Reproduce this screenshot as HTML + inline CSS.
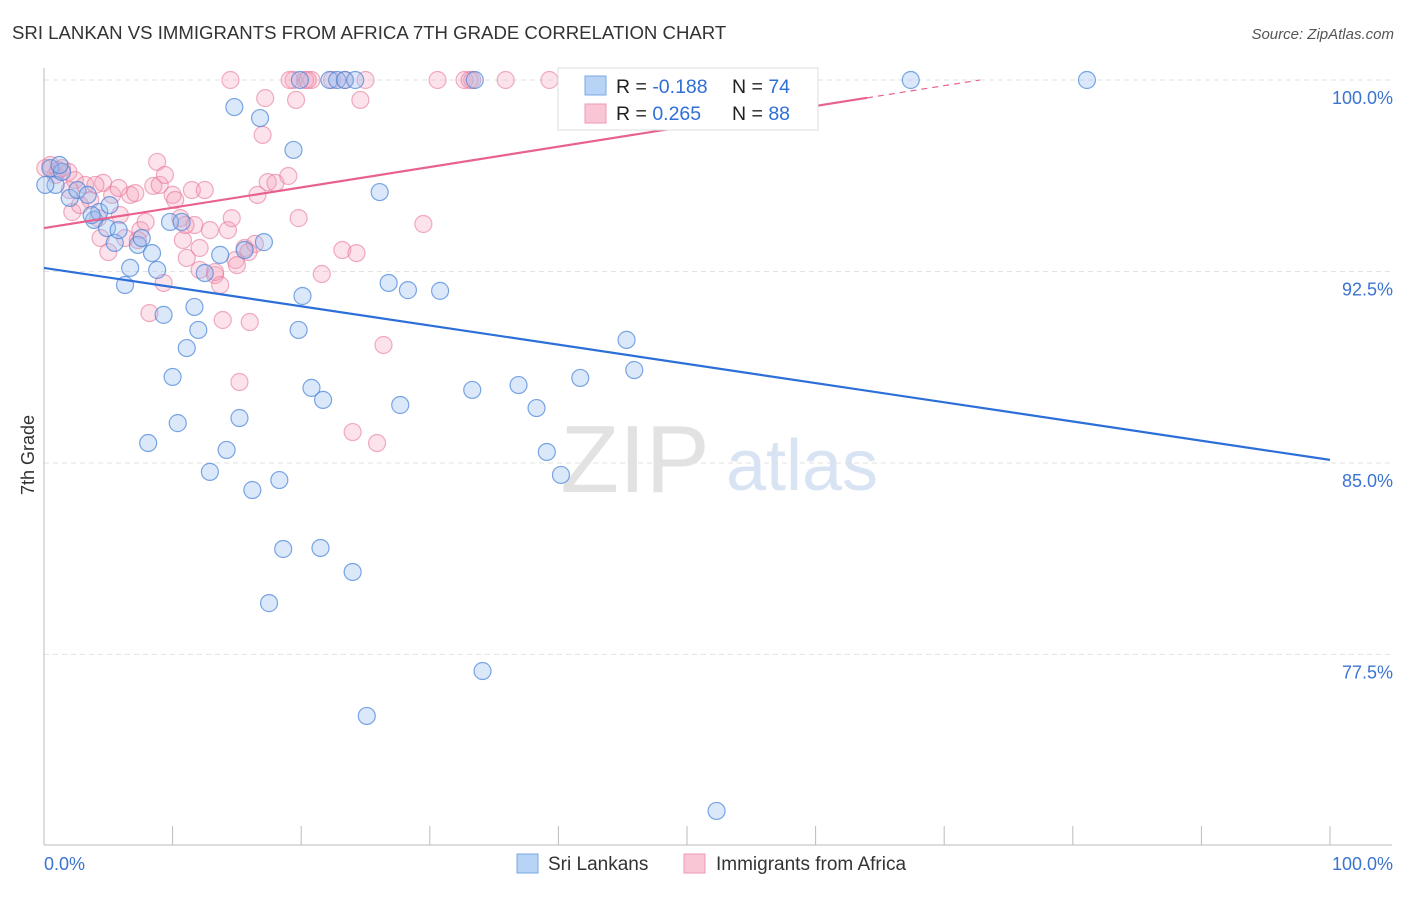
<!DOCTYPE html>
<html><head><meta charset="utf-8"><style>
body{margin:0;background:#fff;font-family:"Liberation Sans",sans-serif;}
svg text{font-family:"Liberation Sans",sans-serif;}
</style></head><body>
<svg id="chart" width="1406" height="892">
<text x="12" y="39" font-size="18.6" fill="#333">SRI LANKAN VS IMMIGRANTS FROM AFRICA 7TH GRADE CORRELATION CHART</text>
<text x="1394" y="39" font-size="15" fill="#555" text-anchor="end" font-style="italic">Source: ZipAtlas.com</text>
<text x="34" y="455" font-size="18" fill="#333" text-anchor="middle" transform="rotate(-90 34 455)">7th Grade</text>
<g>
<text x="635" y="492" font-size="96" fill="#e2e2e2" text-anchor="middle" font-family="Liberation Serif">ZIP</text>
<text x="802" y="490" font-size="72" fill="#d8e3f3" text-anchor="middle">atlas</text>
</g>
<g id="grid"></g><g id="axes"></g><g id="pts"></g><g id="lines"></g>
<g>
<rect x="558" y="68" width="260" height="62" fill="#fff" stroke="#ddd"/>
<rect x="585" y="76" width="21" height="19" fill="#b7d3f5" stroke="#7aa8e6"/>
<rect x="585" y="104" width="21" height="19" fill="#f9c6d5" stroke="#ee9ab3"/>
<text x="616" y="93" font-size="19.5" fill="#222">R = <tspan fill="#2f6fd6">-0.188</tspan></text>
<text x="732" y="93" font-size="19.5" fill="#222">N = <tspan fill="#2f6fd6">74</tspan></text>
<text x="616" y="120" font-size="19.5" fill="#222">R = <tspan fill="#2f6fd6"> 0.265</tspan></text>
<text x="732" y="120" font-size="19.5" fill="#222">N = <tspan fill="#2f6fd6">88</tspan></text>
</g>
<g>
<rect x="517" y="854" width="21" height="19" fill="#b7d3f5" stroke="#7aa8e6"/>
<text x="548" y="870" font-size="19" fill="#333">Sri Lankans</text>
<rect x="684" y="854" width="21" height="19" fill="#f9c6d5" stroke="#ee9ab3"/>
<text x="716" y="870" font-size="19" fill="#333">Immigrants from Africa</text>
</g>
</svg>
<script>
const yTicks=[100,92.5,85,77.5];
const yTickLabels=["100.0%","92.5%","85.0%","77.5%"];
const xLabels=["0.0%","100.0%"];
const blueX=[0.5,0.9,1.4,2.0,2.6,3.4,3.9,4.3,4.9,5.1,5.5,6.7,6.3,7.3,7.6,8.4,8.8,9.3,9.8,10.7,10.0,10.4,8.1,11.1,11.7,12.0,12.5,12.9,13.7,14.2,14.8,15.2,15.6,16.2,16.8,17.1,18.3,18.6,17.5,19.4,19.8,20.1,20.8,21.5,21.7,22.2,22.8,23.4,24.0,24.2,25.1,26.1,26.8,27.7,28.3,30.8,33.3,33.5,34.1,36.9,38.3,39.1,40.2,41.7,45.3,45.9,52.3,67.4,81.1,0.1,1.2,5.8,3.7,19.9];
const blueY=[96.55,95.89,96.40,95.38,95.69,95.50,94.52,94.83,94.20,95.10,93.62,92.64,91.97,93.54,93.81,93.22,92.56,90.80,94.44,94.44,88.37,86.56,85.78,89.50,91.11,90.21,92.44,84.65,93.15,85.51,98.94,86.76,93.34,83.94,98.51,93.65,84.33,81.63,79.51,97.26,90.21,91.54,87.94,81.67,87.47,100,100,100,80.73,100,75.09,95.61,92.05,87.27,91.77,91.74,87.86,100,76.85,88.05,87.15,85.43,84.53,88.33,89.82,88.64,71.37,100,100,95.89,96.67,94.12,94.71,100];
const pinkX=[0.5,0.9,1.4,1.9,2.2,2.4,3.2,3.6,4.4,4.6,5.0,5.3,5.9,6.3,6.7,7.1,7.5,7.9,8.2,8.5,8.8,9.0,9.3,9.4,10.0,10.2,10.6,10.8,11.1,11.5,11.7,12.1,12.5,12.9,13.3,13.7,13.9,14.3,14.6,14.9,15.2,15.6,16.0,16.4,16.6,17.0,17.2,17.4,18.0,19.0,19.4,19.6,19.8,20.3,20.8,21.6,22.4,23.2,24.0,24.3,24.6,25.0,25.9,26.4,29.5,30.6,32.7,33.3,35.9,39.3,14.5,23.4,2.0,2.8,4.0,1.1,0.1,5.8,4.2,7.3,11.0,12.1,13.3,15.9,15.0,19.1,20.5,33.1,43.3];
const pinkY=[96.67,96.28,96.55,96.40,94.83,96.08,95.89,95.30,93.81,95.97,93.26,95.50,94.71,93.81,95.50,95.57,94.12,94.44,90.87,95.85,96.79,95.89,92.05,96.28,95.50,95.30,94.59,93.73,93.03,95.69,94.32,93.42,95.69,94.12,92.36,91.97,90.60,94.12,94.59,92.95,88.17,93.42,90.52,93.58,95.50,97.85,99.29,96.00,95.97,96.24,100,99.22,94.59,100,100,92.40,100,93.34,86.21,93.22,99.22,100,85.78,89.62,94.36,100,100,100,100,100,100,100,95.69,95.10,95.89,96.47,96.55,95.77,94.59,93.73,94.32,92.56,92.48,93.26,92.75,100,100,100,100];
const blueTrend=[92.64,85.12];
const pinkTrend=[94.2,102.17];
const NS="http://www.w3.org/2000/svg";
const X0=44,X1=1330,Y100=80,PX_PER=25.53;
const sx=v=>X0+(X1-X0)*v/100;
const sy=v=>Y100+(100-v)*PX_PER;
function mk(tag,parent,attrs){const e=document.createElementNS(NS,tag);for(const k in attrs)e.setAttribute(k,attrs[k]);document.getElementById(parent).appendChild(e);return e;}
yTicks.forEach((t,i)=>{
 const l=mk('line','grid',{x1:X0,x2:1392,y1:sy(t),y2:sy(t),stroke:'#e2e2e2','stroke-dasharray':'5,4'});
 
 
 const tx=mk('text','axes',{x:1393,y:sy(t)+24,'font-size':18,fill:'#3b74d0','text-anchor':'end'});
 tx.textContent=yTickLabels[i];
 
 
});
const ax=mk('line','axes',{x1:X0,x2:X0,y1:68,y2:845,stroke:'#bbb'});


const bx=mk('line','axes',{x1:X0,x2:1392,y1:845,y2:845,stroke:'#bbb'});


for(let i=0;i<=10;i++){const t=mk('line','axes',{x1:sx(i*10),x2:sx(i*10),y1:826,y2:845,stroke:'#bbb'});
 
 }
const xl0=mk('text','axes',{x:X0,y:870,'font-size':18,fill:'#3b74d0'});xl0.textContent=xLabels[0];


const xl1=mk('text','axes',{x:1393,y:870,'font-size':18,fill:'#3b74d0','text-anchor':'end'});xl1.textContent=xLabels[1];


pinkX.forEach((v,i)=>{const c=mk('circle','pts',{cx:sx(v),cy:sy(pinkY[i]),r:8.5,fill:'rgba(244,160,186,0.3)',stroke:'rgba(232,120,155,0.6)','stroke-width':1.2});
 
 });
blueX.forEach((v,i)=>{const c=mk('circle','pts',{cx:sx(v),cy:sy(blueY[i]),r:8.5,fill:'rgba(150,190,240,0.35)',stroke:'rgba(70,130,215,0.7)','stroke-width':1.2});
 
 });
const bl=mk('line','lines',{x1:sx(0),y1:sy(blueTrend[0]),x2:sx(100),y2:sy(blueTrend[1]),stroke:'#2c6fd8','stroke-width':2.2});


const pAt=x=>pinkTrend[0]+(pinkTrend[1]-pinkTrend[0])*x/100;
const xEnd=Math.min(100,(100-pinkTrend[0])/(pinkTrend[1]-pinkTrend[0])*100);
const xs=Math.min(64,xEnd);
const pl=mk('line','lines',{x1:sx(0),y1:sy(pAt(0)),x2:sx(xs),y2:sy(pAt(xs)),stroke:'#e8628e','stroke-width':2.2});


const pd=mk('line','lines',{x1:sx(xs),y1:sy(pAt(xs)),x2:sx(xEnd),y2:sy(pAt(xEnd)),stroke:'#e8628e','stroke-width':1.2,'stroke-dasharray':'6,5'});


</script>
</body></html>
